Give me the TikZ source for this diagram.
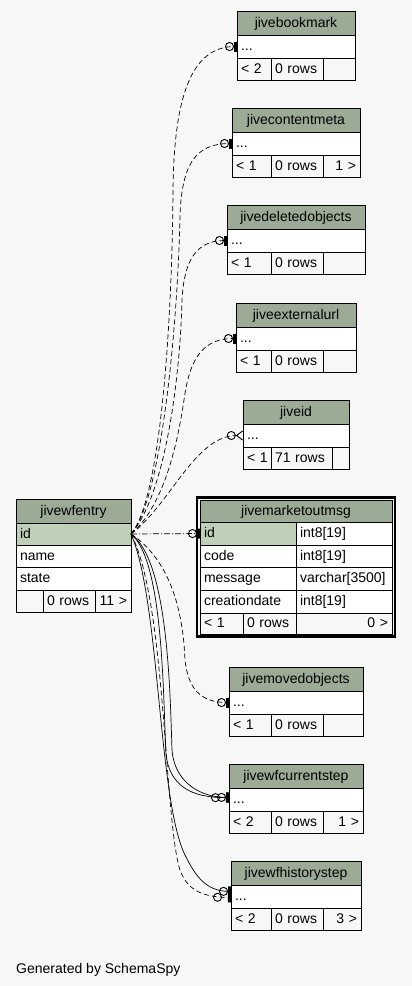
\documentclass[tikz,border=0pt]{standalone}
\usepackage{fontspec}
\setmainfont{Liberation Sans}
\usetikzlibrary{arrows.meta}

\definecolor{pagebg}{HTML}{F7F7F7}
\definecolor{hdgreen}{HTML}{9BAB96}
\definecolor{keygreen}{HTML}{BED1B8}

\newcommand\tabfont{\fontsize{14}{16}\selectfont}

\tikzset{
  cell/.style={draw, line width=0.9pt, anchor=north west, inner xsep=4pt, inner ysep=0pt,
    outer sep=0pt, align=left, text height=10pt, text depth=2pt, font=\tabfont},
  hdcell/.style={cell, fill=hdgreen, align=center},
  keycell/.style={cell, fill=keygreen},
  bodycell/.style={cell, fill=white},
  footcell/.style={cell, fill=pagebg},
  rel/.style={line width=0.7pt, dash pattern=on 5pt off 3pt},
  relsolid/.style={line width=0.7pt},
  zeroone/.style={-{Circle[open,length=9pt,width=9pt,line width=0.9pt] Bar[width=10pt,line width=3pt]}},
  zeroonefar/.style={-{Circle[open,length=9pt,width=9pt,line width=0.9pt,sep=6pt] Bar[width=10pt,line width=3pt]}},
  zeromany/.style={-{Circle[open,length=9pt,width=9pt,line width=0.9pt] Straight Barb[reversed,length=6pt,width=9pt,line width=0.9pt]}},
}

% one table cell: [style]{name}{x}{y}{width}{height}{text}
\newcommand\tcell[7][]{%
  \pgfmathsetlengthmacro\cellw{(#5)*1pt-8pt}%
  \node[cell,#1,minimum height=#6pt,text width=\cellw] (#2) at (#3,#4) {\mbox{#7}};}

% collapsed table: [2nd split]{name}{left}{right}{top}{title}{foot1}{foot2}{foot3}
\newcommand\smalltab[9][323]{%
  \tcell[hdcell]{#2-hd}{#3}{#5}{#4-#3}{24}{#6}
  \tcell[bodycell]{#2-row}{#3}{#5+24}{#4-#3}{23}{...}
  \tcell[footcell]{#2-f1}{#3}{#5+47}{271-#3}{22}{#7}
  \tcell[footcell]{#2-f2}{271}{#5+47}{#1-271}{22}{#8}
  \tcell[footcell,align=right]{#2-f3}{#1}{#5+47}{#4-#1}{22}{#9}}

\begin{document}
\begin{tikzpicture}[x=1pt,y=-1pt]
  % --- canvas ---
  \fill[pagebg] (0,0) rectangle (412,986);
  \useasboundingbox (0,0) rectangle (412,986);

  % --- parent table ---
  \tcell[hdcell]{wfentry-hd}{16}{499}{115}{24}{jivewfentry}
  \tcell[keycell]{wfentry-id}{16}{523}{115}{22}{id}
  \tcell[bodycell]{wfentry-name}{16}{545}{115}{22}{name}
  \tcell[bodycell]{wfentry-state}{16}{567}{115}{23}{state}
  \tcell[footcell]{wfentry-f1}{16}{590}{27}{22}{}
  \tcell[footcell]{wfentry-f2}{43}{590}{52}{22}{0 rows}
  \tcell[footcell,align=right]{wfentry-f3}{95}{590}{36}{22}{11 >}

  % --- focused table (double border) ---
  \draw[line width=2.5pt] (197,497.5) rectangle (395,636.5);
  \tcell[hdcell]{mom-hd}{200}{500}{192}{22}{jivemarketoutmsg}
  \tcell[keycell]{mom-id}{200}{522}{96}{23}{id}
  \tcell[bodycell]{mom-idt}{296}{522}{96}{23}{int8[19]}
  \tcell[bodycell]{mom-code}{200}{545}{96}{22}{code}
  \tcell[bodycell]{mom-codet}{296}{545}{96}{22}{int8[19]}
  \tcell[bodycell]{mom-msg}{200}{567}{96}{23}{message}
  \tcell[bodycell]{mom-msgt}{296}{567}{96}{23}{varchar[3500]}
  \tcell[bodycell]{mom-date}{200}{590}{96}{23}{creationdate}
  \tcell[bodycell]{mom-datet}{296}{590}{96}{23}{int8[19]}
  \tcell[footcell]{mom-f1}{200}{613}{43}{21}{< 1}
  \tcell[footcell]{mom-f2}{243}{613}{53}{21}{0 rows}
  \tcell[footcell,align=right]{mom-f3}{296}{613}{96}{21}{0 >}

  % --- child tables, collapsed ---
  \smalltab{bookmark}{237}{355}{11}{jivebookmark}{< 2}{0 rows}{}
  \smalltab{contentmeta}{232}{360}{108}{jivecontentmeta}{< 1}{0 rows}{1 >}
  \smalltab{deleted}{227}{365}{205}{jivedeletedobjects}{< 1}{0 rows}{}
  \smalltab{exturl}{236}{356}{303}{jiveexternalurl}{< 1}{0 rows}{}
  \smalltab[332]{jiveid}{243}{349}{400}{jiveid}{< 1}{71 rows}{}
  \smalltab{moved}{229}{363}{667}{jivemovedobjects}{< 1}{0 rows}{}
  \smalltab{wfcur}{229}{363}{764}{jivewfcurrentstep}{< 2}{0 rows}{1 >}
  \smalltab{wfhist}{231}{361}{861}{jivewfhistorystep}{< 2}{0 rows}{3 >}

  % --- relations upwards ---
  \draw[rel, zeroone] (wfentry-id.east) .. controls (160,500) and (172,330) .. (173,190)
    .. controls (174,100) and (190,46.5) .. (bookmark-row.west);
  \draw[rel, zeroone] (wfentry-id.east) .. controls (162,500) and (178,320) .. (180,215)
    .. controls (182,165) and (195,143.5) .. (contentmeta-row.west);
  \draw[rel, zeroone] (wfentry-id.east) .. controls (165,495) and (180,380) .. (182,300)
    .. controls (184,262) and (195,240.5) .. (deleted-row.west);
  \draw[rel, zeroone] (wfentry-id.east) .. controls (165,505) and (178,440) .. (184,400)
    .. controls (190,355) and (205,338.5) .. (exturl-row.west);
  \draw[rel, zeromany] (wfentry-id.east) .. controls (170,505) and (195,435.5) .. (jiveid-row.west);

  % --- straight relation to the focused table ---
  \draw[line width=0.7pt, dash pattern=on 6pt off 2pt on 1pt off 2pt, zeroone]
    (wfentry-id.east) -- (mom-id.west);

  % --- relations downwards ---
  \draw[rel, zeroone] (wfentry-id.east) .. controls (170,560) and (183,610) .. (185,660)
    .. controls (188,688) and (200,702.5) .. (moved-row.west);
  \draw[relsolid, zeroone] (wfentry-id.east) .. controls (168,560) and (170,690) .. (172,750)
    .. controls (174,778) and (195,797) .. ([yshift=2pt]wfcur-row.west);
  \draw[relsolid, zeroonefar] (wfentry-id.east) .. controls (163,560) and (163,690) .. (166,755)
    .. controls (170,785) and (190,798) .. ([yshift=2pt]wfcur-row.west);
  \draw[relsolid, zeroone] (wfentry-id.east) .. controls (160,600) and (158,800) .. (185,855)
    .. controls (195,875) and (205,891) .. ([yshift=5pt]wfhist-row.west);
  \draw[rel, zeroonefar] (wfentry-id.east) .. controls (166,600) and (164,820) .. (180,870)
    .. controls (188,892) and (205,897) .. ([yshift=-1pt]wfhist-row.west);

  % --- footer ---
  \node[anchor=base west, inner sep=0pt, font=\tabfont] (credit) at (16,973) {Generated by SchemaSpy};
\end{tikzpicture}
\end{document}
